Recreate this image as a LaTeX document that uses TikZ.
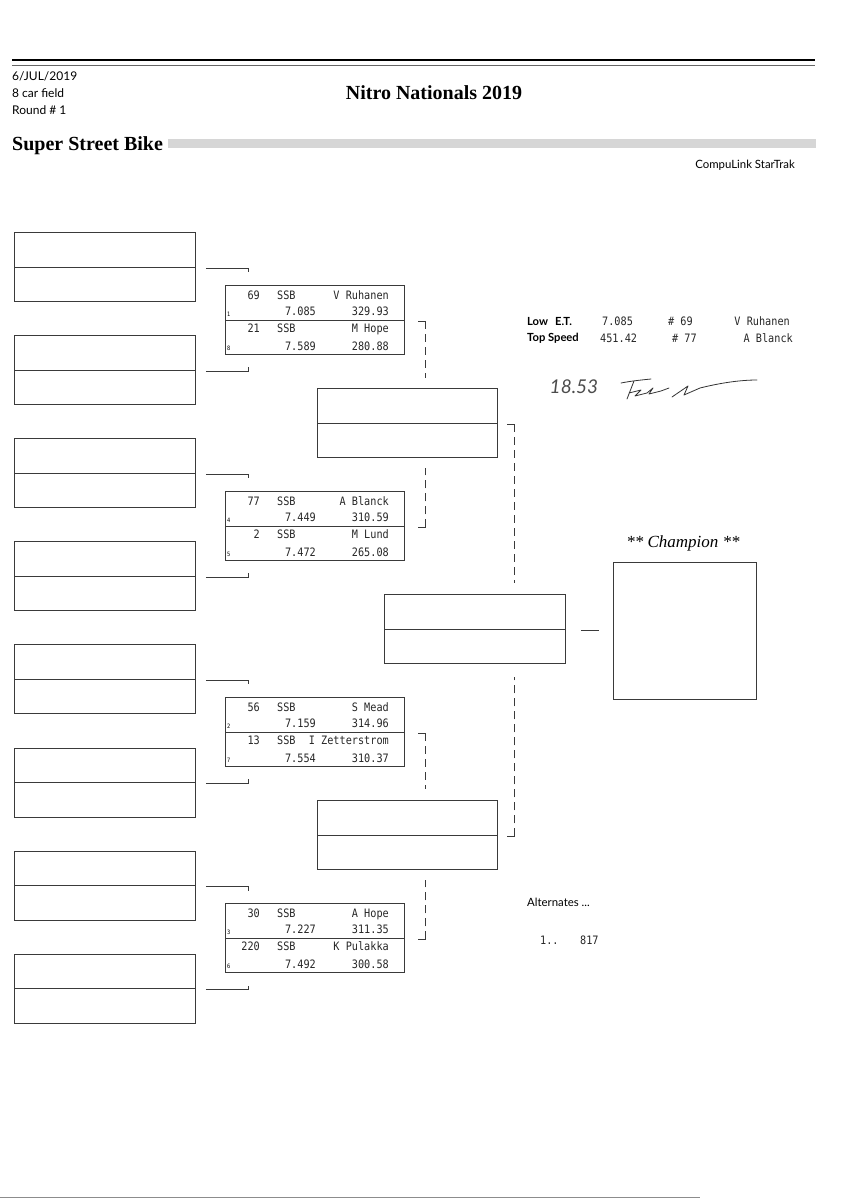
\documentclass[tikz,border=0pt]{standalone}
\usepackage{fontspec}
\usetikzlibrary{calc}
\newfontfamily\timesfont{Liberation Serif}
\newfontfamily\gillfont{Lato}
\newfontfamily\dosfont{DejaVu Sans Mono}[FakeStretch=0.88]
\definecolor{inkcolor}{HTML}{3a3a3a}

\begin{document}
\begin{tikzpicture}[x=1pt,y=-1pt,
  slot/.style={draw=inkcolor, line width=.8pt, anchor=north west, inner sep=0pt, minimum width=181pt, minimum height=69pt},
  heat/.style={slot, minimum width=179pt},
  leg/.style={draw=inkcolor, line width=.7pt},
  dashleg/.style={leg, dash pattern=on 8pt off 5pt},
  dos/.style={font=\dosfont\fontsize{11.6}{13}\selectfont, inner sep=0pt, text=black!85},
  seed/.style={font=\dosfont\fontsize{6}{7}\selectfont, inner sep=0pt, anchor=base west},
  hdr/.style={font=\gillfont\fontsize{12}{14}\selectfont, inner sep=0pt, anchor=west},
  hdrbold/.style={hdr, font=\gillfont\bfseries\fontsize{11.2}{13}\selectfont}]
  \useasboundingbox (0,0) rectangle (848,1200);
  % page header
  \draw[line width=1.6pt] (12,60) -- (815,60);
  \draw[line width=1.4pt, black!60] (12,65.5) -- (815,65.5);
  \node[hdr] (date) at (12,76) {6/JUL/2019};
  \node[hdr] (field) at (12,93) {8 car field};
  \node[hdr] (round) at (12,110) {Round \# 1};
  \node[font=\timesfont\bfseries\fontsize{20}{24}\selectfont, inner sep=0pt] (title) at (434,93) {Nitro Nationals 2019};
  \node[font=\timesfont\bfseries\fontsize{20}{24}\selectfont, inner sep=0pt, anchor=base west] (class) at (12,150) {Super Street Bike};
  \fill[black!16] (168,139) rectangle (816,148);
  \node[hdr, anchor=east, font=\gillfont\fontsize{11.4}{13}\selectfont] (system) at (795,165) {CompuLink StarTrak};
  % first round entry slots
  \foreach \i in {1,...,8}
    \node[slot] (e\i) at (14,{232+103.1*(\i-1)}) {};
  \foreach \i in {1,...,8}
    \draw[leg] (e\i.west) -- (e\i.east);
  \foreach \i in {1,3,5,7}
    \draw[leg] ($(e\i.east)+(10,1)$) -- ($(e\i.east)+(53,1)$) -- ++(0,4);
  \foreach \i in {2,4,6,8}
    \draw[leg] ($(e\i.east)+(10,1)$) -- ($(e\i.east)+(53,1)$) -- ++(0,-4);
  % heat results
  \foreach \h/\y in {1/285,2/491,3/697,4/903}
    \node[heat] (h\h) at (225,\y) {};
  \foreach \h in {1,...,4}
    \draw[leg] (h\h.west) -- (h\h.east);
  \foreach \h/\na/\ra/\ea/\sa/\qa/\nb/\rb/\eb/\sb/\qb in {
      1/69/V Ruhanen/7.085/329.93/1/21/M Hope/7.589/280.88/8,
      2/77/A Blanck/7.449/310.59/4/2/M Lund/7.472/265.08/5,
      3/56/S Mead/7.159/314.96/2/13/I Zetterstrom/7.554/310.37/7,
      4/30/A Hope/7.227/311.35/3/220/K Pulakka/7.492/300.58/6}{
    \node[dos, anchor=base east] (car-\h-a) at ($(h\h.north west)+(35,14)$) {\na};
    \node[dos, anchor=base west] (cls-\h-a) at ($(h\h.north west)+(52,14)$) {SSB};
    \node[dos, anchor=base east] (rider-\h-a) at ($(h\h.north west)+(164,14)$) {\ra};
    \node[seed] (seed-\h-a) at ($(h\h.north west)+(2,31)$) {\qa};
    \node[dos, anchor=base east] (et-\h-a) at ($(h\h.north west)+(91,30)$) {\ea};
    \node[dos, anchor=base east] (mph-\h-a) at ($(h\h.north west)+(164,30)$) {\sa};
    \node[dos, anchor=base east] (car-\h-b) at ($(h\h.north west)+(35,47)$) {\nb};
    \node[dos, anchor=base west] (cls-\h-b) at ($(h\h.north west)+(52,47)$) {SSB};
    \node[dos, anchor=base east] (rider-\h-b) at ($(h\h.north west)+(164,47)$) {\rb};
    \node[seed] (seed-\h-b) at ($(h\h.north west)+(2,65)$) {\qb};
    \node[dos, anchor=base east] (et-\h-b) at ($(h\h.north west)+(91,65)$) {\eb};
    \node[dos, anchor=base east] (mph-\h-b) at ($(h\h.north west)+(164,65)$) {\sb};
  }
  % dashed legs into the semis
  \draw[dashleg] ($(h1.east)+(21,1.5)$) coordinate (k1) -- ++(-11,0) (k1) -- ++(0,57);
  \draw[dashleg] ($(h2.east)+(21,1.5)$) coordinate (k2) -- ++(-11,0) (k2) -- ++(0,-59);
  \draw[dashleg] ($(h3.east)+(21,1.5)$) coordinate (k3) -- ++(-11,0) (k3) -- ++(0,56);
  \draw[dashleg] ($(h4.east)+(21,1.5)$) coordinate (k4) -- ++(-11,0) (k4) -- ++(0,-59);
  % semis and final
  \node[slot, minimum width=180pt] (s1) at (317,388) {};
  \node[slot, minimum width=180pt] (s2) at (317,800) {};
  \node[slot] (fin) at (384,594) {};
  \foreach \b in {s1,s2,fin}
    \draw[leg] (\b.west) -- (\b.east);
  \draw[dashleg] ($(s1.east)+(17,1.5)$) coordinate (m1) -- ++(-9,0) (m1) -- ++(0,159);
  \draw[dashleg] ($(s2.east)+(17,1.5)$) coordinate (m2) -- ++(-9,0) (m2) -- ++(0,-159);
  \draw[leg] ($(fin.east)+(15,1.5)$) -- ++(18,0);
  % champion
  \node[font=\timesfont\itshape\fontsize{17}{20}\selectfont, inner sep=0pt] (champlbl) at (683,543) {** Champion **};
  \node[slot, minimum width=143pt, minimum height=137pt] (champ) at (613,562) {};
  % low e.t. and top speed
  \node[hdrbold] (lowlbl) at (527,321) {Low\hspace{7pt}E.T.};
  \node[dos, anchor=west] (lowet) at (602,321) {7.085};
  \node[dos, anchor=west] (lownum) at (668,321) {\# 69};
  \node[dos, anchor=east] (lowname) at (790,321) {V Ruhanen};
  \node[hdrbold] (toplbl) at (527,338) {Top Speed};
  \node[dos, anchor=west] (topspd) at (600,338) {451.42};
  \node[dos, anchor=west] (topnum) at (672,338) {\# 77};
  \node[dos, anchor=east] (topname) at (793,338) {A Blanck};
  % handwritten time and signature
  \node[font=\gillfont\itshape\fontsize{19}{22}\selectfont, inner sep=0pt, text=black!70] (hand) at (574,387) {18.53};
  \draw[line width=.8pt, black!80, line cap=round, line join=round]
    (621,383) .. controls (631,381) and (641,380) .. (651,379)
    (634,381) -- (627,399)
    (629,393) -- (641,390) -- (635,396) -- (647,393) -- (653,388) -- (649,394) -- (661,391) -- (669,388)
    (672,397) -- (688,386) -- (684,395) -- (700,388) .. controls (720,383) and (740,380) .. (757,380);
  % alternates
  \node[hdr, font=\gillfont\fontsize{11.4}{13}\selectfont] (alt) at (527,902) {Alternates ...};
  \node[dos, anchor=west] (altno) at (540,940) {1..};
  \node[dos, anchor=west] (altcar) at (580,940) {817};
  % page footer
  \draw[line width=1pt, black!45] (0,1197) -- (700,1197);
\end{tikzpicture}
\end{document}
